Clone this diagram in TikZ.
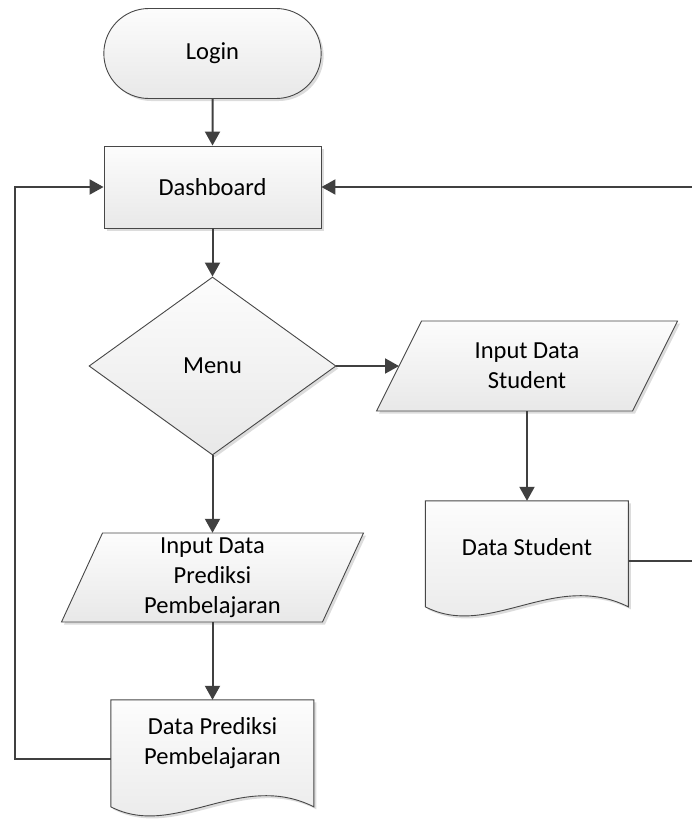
\documentclass[tikz,border=0pt]{standalone}
\usepackage{fontspec}
\setmainfont{Carlito}
\usetikzlibrary{arrows.meta,shapes.geometric,shapes.misc,shadows,calc,backgrounds}
\begin{document}
\begin{tikzpicture}[x=1pt,y=-1pt,
  font=\fontsize{24.5}{30}\selectfont,
  shp/.style={draw=black!72, line width=0.9pt, top color=black!1, bottom color=black!9,
    drop shadow={shadow xshift=2.5pt, shadow yshift=-2.5pt, fill=black!30, opacity=0.45}},
  lbl/.style={align=center, text=black},
  con/.style={draw=black!75, line width=2pt, -{Triangle[length=14pt,width=15pt]}},
]
\useasboundingbox (0,0) rectangle (692,820);

% nodes
\node[shp, rounded rectangle, minimum width=224pt, minimum height=90pt, lbl] (login) at (212.5,53.5) {Login};
\node[shp, rectangle, minimum width=217pt, minimum height=82pt, lbl] (dash) at (212.5,187) {Dashboard};
\node[shp, diamond, minimum width=247pt, minimum height=178pt, inner sep=0pt, lbl] (menu) at (212.5,366) {Menu};
\node[lbl, minimum width=210pt, minimum height=90pt] (ids) at (527,366) {Input Data\\Student};
\node[lbl, minimum width=210pt, minimum height=89pt] (idp) at (212.5,577.5) {Input Data\\Prediksi\\Pembelajaran};
\node[lbl, minimum width=203pt, minimum height=92pt] (ds) at (527,547) {Data Student};
\node[lbl, minimum width=203pt, minimum height=86pt] (dp) at (212.5,743) {Data Prediksi\\Pembelajaran};

\coordinate (idsw) at (399,366);
\coordinate (lx) at (15,0);
\coordinate (rx) at (694,0);

% custom shapes behind their texts
\begin{scope}[on background layer]
  \path[shp] ($(ids)+(-105.5,-45)$) -- ($(ids)+(150.5,-45)$) -- ($(ids)+(105.5,45)$) -- ($(ids)+(-150.5,45)$) -- cycle;
  \path[shp] ($(idp)+(-110,-44.5)$) -- ($(idp)+(151,-44.5)$) -- ($(idp)+(110,44.5)$) -- ($(idp)+(-151,44.5)$) -- cycle;
  \begin{scope}[shift={(ds.north west)}]
    \path[shp] (0,0) -- (203,0) -- (203,106) .. controls (129,69) and (64,139) .. (0,106) -- cycle;
  \end{scope}
  \begin{scope}[shift={(dp.north west)}]
    \path[shp] (0,0) -- (203,0) -- (203,107) .. controls (129,70) and (64,140) .. (0,107) -- cycle;
  \end{scope}
\end{scope}

% connectors
\draw[con] (login) -- (dash);
\draw[con] (dash) -- (menu);
\draw[con] (menu.east) -- (idsw);
\draw[con] (menu.south) -- (idp.north);
\draw[con] (ids.south) -- (ds.north);
\draw[con] (idp.south) -- (dp.north);
\draw[con] ([yshift=-16pt]dp.west) -| (lx |- dash.west) -- (dash.west);
\draw[con] ([yshift=-14pt]ds.east) -| (rx |- dash.east) -- (dash.east);
\end{tikzpicture}
\end{document}
